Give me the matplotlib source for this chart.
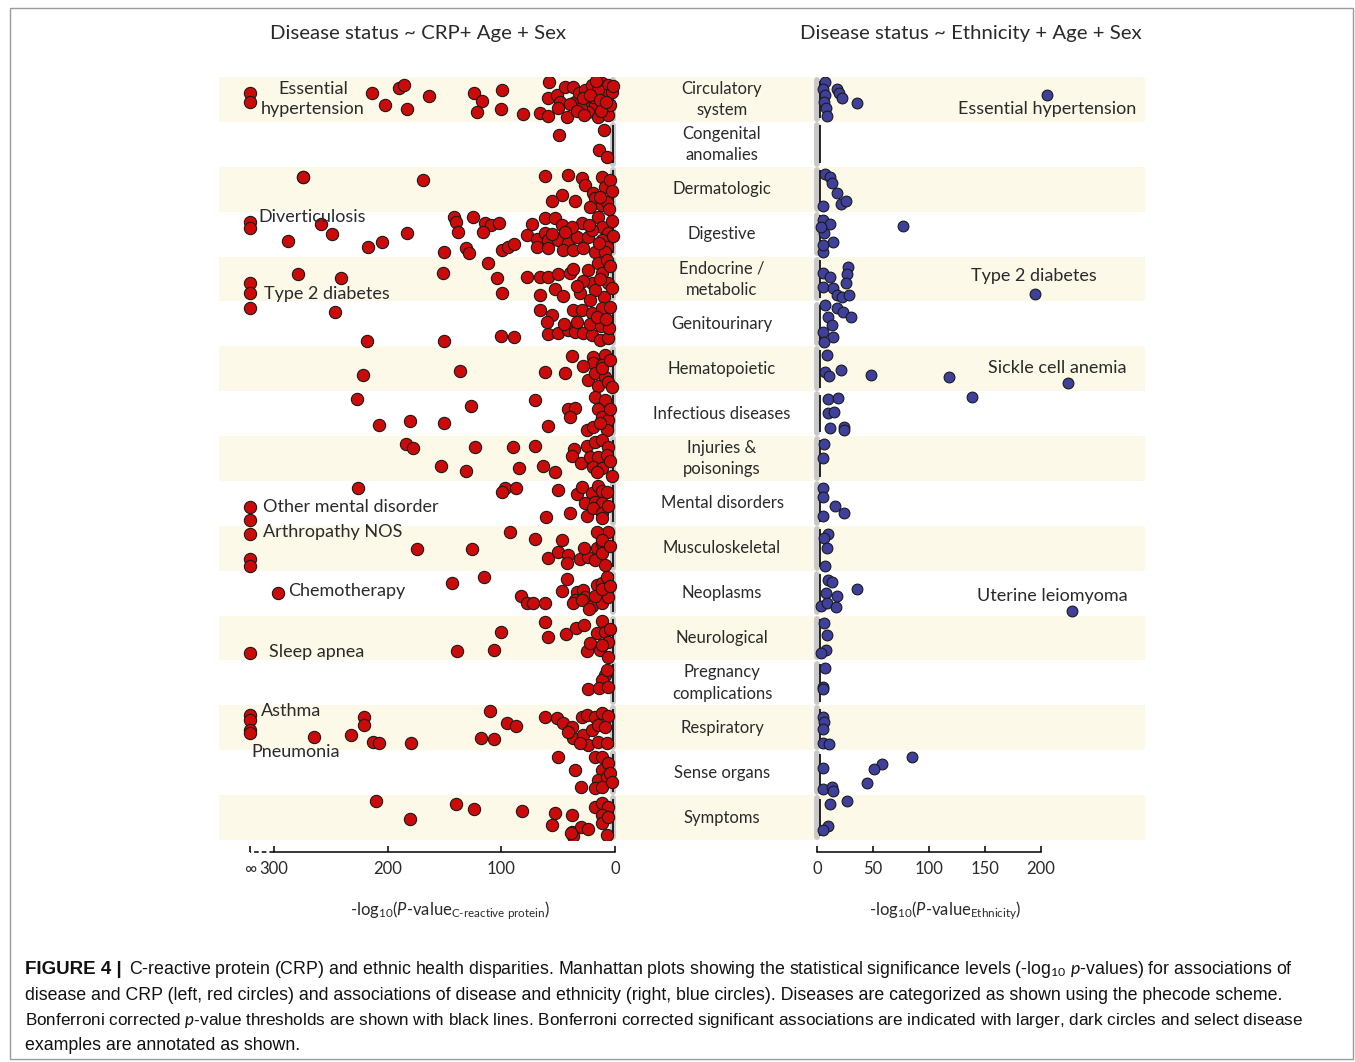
import matplotlib
matplotlib.use('Agg')
import matplotlib.pyplot as plt
import matplotlib.transforms as mtransforms
from matplotlib.patches import Rectangle
import numpy as np

inf = float('inf')

# phecode categories, top to bottom
categories = ['Circulatory\nsystem', 'Congenital\nanomalies', 'Dermatologic', 'Digestive',
              'Endocrine /\nmetabolic', 'Genitourinary', 'Hematopoietic', 'Infectious diseases',
              'Injuries &\npoisonings', 'Mental disorders', 'Musculoskeletal', 'Neoplasms',
              'Neurological', 'Pregnancy\ncomplications', 'Respiratory', 'Sense organs', 'Symptoms']

# -log10(p) for CRP, one list per category (inf = p underflow)
crp_logp = [
    [inf, inf, 214, 202, 190, 186, 183, 164, 124, 117, 121, 99, 100, 81, 58, 66, 59, 59, 51, 44, 37, 48, 42, 50,
     35, 32, 26, 20, 11, 6, 25, 18, 10, 24, 15, 6, 19, 9, 15, 30, 28, 22, 13, 4, 3, 40, 33, 27, 12, 8, 2, 17],
    [10, 49, 14, 7],
    [274, 274, 169, 62, 41, 29, 26, 11, 47, 55, 35, 19, 18, 11, 7, 9, 4, 13, 3, 22, 5],
    [inf, inf, 259, 288, 249, 217, 205, 183, 142, 140, 125, 138, 150, 131, 128, 114, 109, 102, 116, 99, 94, 89,
     73, 62, 53, 47, 77, 69, 62, 59, 69, 59, 50, 41, 33, 24, 46, 37, 28, 18, 29, 15, 11, 6, 11, 7, 20, 38,
     3, 2, 9, 14, 23, 44, 55],
    [inf, inf, 279, 241, 151, 112, 104, 99, 77, 66, 59, 50, 40, 37, 53, 66, 46, 31, 24, 20, 15, 11, 7, 6, 10, 18, 22,
     4, 3, 13, 28, 33],
    [inf, 246, 218, 150, 100, 89, 59, 50, 41, 35, 28, 20, 13, 6, 66, 55, 37, 29, 20, 11, 4, 60, 45, 33, 22, 12, 5,
     16, 8],
    [38, 19, 9, 19, 11, 222, 136, 62, 44, 24, 18, 9, 15, 6, 11, 4, 28, 3],
    [227, 70, 127, 18, 9, 15, 41, 35, 40, 208, 180, 150, 59, 11, 6, 25, 19, 7, 4, 13],
    [184, 178, 123, 90, 70, 36, 38, 25, 18, 11, 6, 153, 131, 84, 63, 53, 30, 22, 15, 7, 19, 11, 16, 4, 3],
    [226, 97, 99, 87, 50, 33, 29, 20, 15, 11, 26, 18, 11, 40, 61, 25, 19, 11, 11, inf, inf, 6, 7],
    [inf, inf, inf, 92, 70, 47, 174, 126, 59, 50, 41, 42, 31, 24, 16, 11, 6, 16, 11, 18, 11, 9, 4, 27],
    [296, 143, 115, 42, 47, 33, 28, 35, 26, 16, 11, 7, 83, 77, 72, 62, 37, 29, 20, 11, 6, 18, 11, 4, 23],
    [62, 100, 59, 43, 34, 27, 11, 16, 9, 6, 139, 106, 25, 22, 13, 6, 11, inf, 4],
    [9, 11, 24, 14, 6, 7],
    [inf, inf, inf, inf, 221, 221, 265, 232, 213, 208, 179, 110, 95, 87, 118, 106, 62, 51, 46, 38, 29, 25, 18, 11,
     6, 37, 28, 20, 15, 9, 24, 15, 7, 31, 41],
    [50, 35, 18, 11, 11, 15, 7, 18, 11, 30, 6, 4, 3],
    [210, 140, 124, 82, 53, 38, 180, 55, 38, 30, 24, 37, 39, 18, 11, 6, 11, 11, 7, 6],
]
# vertical spread of each point inside its category row (0 = top, 1 = bottom)
crp_jitter = [
    [0.36, 0.56, 0.36, 0.62, 0.25, 0.18, 0.71, 0.42, 0.36, 0.53, 0.78, 0.29, 0.71, 0.82, 0.11, 0.80, 0.87, 0.47,
     0.40, 0.22, 0.22, 0.56, 0.89, 0.69, 0.56, 0.36, 0.29, 0.18, 0.13, 0.18, 0.62, 0.62, 0.62, 0.78, 0.89, 0.85,
     0.45, 0.40, 0.29, 0.69, 0.47, 0.40, 0.51, 0.62, 0.33, 0.60, 0.75, 0.85, 0.75, 0.55, 0.20, 0.10],
    [0.18, 0.29, 0.63, 0.78],
    [0.22, 0.23, 0.29, 0.21, 0.18, 0.25, 0.40, 0.22, 0.63, 0.76, 0.76, 0.58, 0.69, 0.85, 0.78, 0.45, 0.29, 0.67,
     0.55, 0.90, 0.95],
    [0.23, 0.36, 0.28, 0.65, 0.50, 0.78, 0.67, 0.47, 0.12, 0.23, 0.12, 0.45, 0.89, 0.81, 0.92, 0.25, 0.30, 0.25,
     0.45, 0.85, 0.78, 0.72, 0.28, 0.14, 0.14, 0.30, 0.52, 0.60, 0.48, 0.63, 0.78, 0.81, 0.63, 0.70, 0.56, 0.56,
     0.85, 0.85, 0.81, 0.90, 0.25, 0.12, 0.34, 0.47, 0.63, 0.78, 0.41, 0.34, 0.20, 0.55, 0.90, 0.70, 0.30, 0.45,
     0.50],
    [0.59, 0.81, 0.39, 0.48, 0.37, 0.14, 0.48, 0.81, 0.46, 0.46, 0.46, 0.39, 0.37, 0.28, 0.72, 0.85, 0.87, 0.81,
     0.30, 0.59, 0.14, 0.37, 0.08, 0.59, 0.90, 0.74, 0.96, 0.20, 0.70, 0.50, 0.55, 0.65],
    [0.15, 0.23, 0.88, 0.88, 0.77, 0.79, 0.73, 0.70, 0.63, 0.68, 0.70, 0.75, 0.86, 0.82, 0.19, 0.30, 0.19, 0.19,
     0.26, 0.15, 0.12, 0.45, 0.50, 0.45, 0.50, 0.55, 0.60, 0.35, 0.40],
    [0.21, 0.23, 0.19, 0.37, 0.41, 0.63, 0.55, 0.57, 0.59, 0.75, 0.59, 0.68, 0.88, 0.79, 0.48, 0.30, 0.45, 0.90],
    [0.17, 0.19, 0.33, 0.13, 0.19, 0.39, 0.39, 0.37, 0.57, 0.75, 0.66, 0.71, 0.77, 0.57, 0.64, 0.86, 0.79, 0.86,
     0.40, 0.70],
    [0.17, 0.26, 0.24, 0.24, 0.22, 0.28, 0.44, 0.22, 0.13, 0.08, 0.24, 0.66, 0.77, 0.71, 0.66, 0.80, 0.60, 0.46,
     0.46, 0.42, 0.69, 0.71, 0.80, 0.55, 0.90],
    [0.15, 0.15, 0.24, 0.15, 0.20, 0.29, 0.13, 0.27, 0.11, 0.22, 0.49, 0.47, 0.49, 0.71, 0.80, 0.78, 0.60, 0.71,
     0.82, 0.58, 0.87, 0.55, 0.25],
    [0.18, 0.73, 0.89, 0.13, 0.29, 0.31, 0.51, 0.51, 0.71, 0.58, 0.65, 0.82, 0.73, 0.69, 0.49, 0.38, 0.13, 0.13,
     0.31, 0.76, 0.60, 0.87, 0.45, 0.50],
    [0.49, 0.27, 0.13, 0.18, 0.45, 0.47, 0.42, 0.65, 0.58, 0.31, 0.27, 0.13, 0.56, 0.73, 0.71, 0.71, 0.73, 0.65,
     0.78, 0.71, 0.58, 0.56, 0.40, 0.35, 0.85],
    [0.14, 0.36, 0.47, 0.40, 0.27, 0.22, 0.12, 0.38, 0.36, 0.58, 0.78, 0.76, 0.78, 0.61, 0.76, 0.92, 0.65, 0.83,
     0.30],
    [0.32, 0.43, 0.63, 0.61, 0.58, 0.21],
    [0.21, 0.32, 0.54, 0.61, 0.26, 0.43, 0.70, 0.66, 0.81, 0.84, 0.84, 0.12, 0.39, 0.45, 0.72, 0.74, 0.26, 0.28,
     0.39, 0.48, 0.26, 0.21, 0.26, 0.17, 0.23, 0.72, 0.66, 0.54, 0.43, 0.48, 0.88, 0.81, 0.84, 0.84, 0.59],
    [0.14, 0.44, 0.14, 0.14, 0.44, 0.66, 0.59, 0.84, 0.82, 0.82, 0.28, 0.50, 0.70],
    [0.12, 0.19, 0.30, 0.35, 0.39, 0.44, 0.53, 0.66, 0.82, 0.70, 0.75, 0.91, 0.84, 0.26, 0.17, 0.26, 0.44, 0.62,
     0.89, 0.48],
]

# -log10(p) for ethnicity
eth_logp = [
    [7, 5, 7, 6, 8, 9, 18, 20, 22, 36, 205],
    [],
    [7, 12, 13, 18, 21, 26, 5],
    [5, 12, 6, 14, 5, 77, 4, 5],
    [28, 27, 26, 5, 12, 5, 14, 18, 22, 29, 195],
    [7, 18, 23, 30, 10, 13, 5, 14, 6],
    [9, 7, 11, 21, 48, 118, 224],
    [138, 10, 19, 10, 15, 12, 24, 24],
    [6, 5],
    [5, 5, 16, 24, 5],
    [10, 6, 9, 7],
    [10, 13, 36, 8, 18, 4, 9, 17, 228],
    [6, 9, 8, 4],
    [7, 5, 5],
    [5, 6, 5, 5, 11],
    [85, 58, 51, 45, 5, 5, 13, 14],
    [27, 12, 10, 5],
]
eth_jitter = [
    [0.11, 0.27, 0.40, 0.56, 0.69, 0.87, 0.27, 0.36, 0.47, 0.58, 0.40],
    [],
    [0.16, 0.22, 0.36, 0.58, 0.83, 0.76, 0.87],
    [0.18, 0.27, 0.47, 0.67, 0.90, 0.32, 0.34, 0.74],
    [0.23, 0.39, 0.59, 0.37, 0.45, 0.68, 0.70, 0.85, 0.90, 0.85, 0.83],
    [0.08, 0.15, 0.23, 0.35, 0.35, 0.52, 0.68, 0.79, 0.90],
    [0.19, 0.57, 0.66, 0.52, 0.64, 0.68, 0.82],
    [0.13, 0.17, 0.15, 0.48, 0.46, 0.81, 0.80, 0.86],
    [0.17, 0.48],
    [0.16, 0.35, 0.55, 0.71, 0.78],
    [0.18, 0.27, 0.49, 0.89],
    [0.20, 0.25, 0.40, 0.49, 0.56, 0.78, 0.71, 0.80, 0.89],
    [0.16, 0.43, 0.76, 0.83],
    [0.16, 0.58, 0.63],
    [0.25, 0.37, 0.52, 0.84, 0.86],
    [0.14, 0.30, 0.41, 0.73, 0.39, 0.86, 0.81, 0.90],
    [0.12, 0.19, 0.68, 0.77],
]

# Bonferroni thresholds and where the non-significant points sit
crp_threshold, crp_ns = 2.0, 1.5
eth_threshold, eth_ns = 2.7, -0.4
INF_POS = 321  # x position used for p = 0 (the "infinity" tick)

# annotations: label, -log10(p) position, row position
crp_notes = [('Diverticulosis', 314, 3.12), ('Type 2 diabetes', 308.7, 4.83),
             ('Other mental disorder', 309.6, 9.58), ('Arthropathy NOS', 309.6, 10.13),
             ('Chemotherapy', 287.6, 11.45), ('Sleep apnea', 304.3, 12.81),
             ('Asthma', 311.3, 14.12), ('Pneumonia', 320.1, 15.03)]
eth_notes = [('Essential hypertension', 125.9, 0.71), ('Type 2 diabetes', 137.5, 4.43),
             ('Sickle cell anemia', 152.7, 6.48), ('Uterine leiomyoma', 142.9, 11.56)]

caption_lines = [
    r'C-reactive protein (CRP) and ethnic health disparities. Manhattan plots showing the statistical significance levels (-log$_{10}$ $p$-values) for associations of',
    'disease and CRP (left, red circles) and associations of disease and ethnicity (right, blue circles). Diseases are categorized as shown using the phecode scheme.',
    r'Bonferroni corrected $p$-value thresholds are shown with black lines. Bonferroni corrected significant associations are indicated with larger, dark circles and select disease',
    'examples are annotated as shown.',
]

plt.rcParams['font.family'] = ['Lato', 'DejaVu Sans']
plt.rcParams['mathtext.fontset'] = 'custom'
plt.rcParams['mathtext.rm'] = 'Lato'
plt.rcParams['mathtext.it'] = 'Lato:italic'

W, H = 1355, 1062
TXT = '#2a2a2a'
RED = '#CC0A0A'
BLUE = '#3E409B'
BAND = '#FCF9E8'
fig = plt.figure(figsize=(W / 100, H / 100), dpi=100)


def fx(px):
    return px / W


def fy(py):
    return 1 - py / H


nrow = len(categories)
rows = np.arange(nrow)
top, bot = 77, 840

# background bands + category names
bg = fig.add_axes([fx(219), fy(bot), (1145 - 219) / W, (bot - top) / H])
bg.set_xlim(0, 1)
bg.set_ylim(nrow, 0)
bg.axis('off')
for i in rows:
    if i % 2 == 0:
        bg.axhspan(i, i + 1, color=BAND, lw=0)
    bg.text(0.5432, i + 0.5, categories[i], ha='center', va='center', fontsize=12,
            color=TXT, linespacing=1.4)

off = 12 * 0.72  # spine offset in points


def panel(ax, logp, jitter, ns, thr, color, size):
    ax.set_ylim(nrow, 0)
    ax.patch.set_visible(False)
    for s in ['left', 'right', 'top']:
        ax.spines[s].set_visible(False)
    ax.spines['bottom'].set_position(('outward', off))
    ax.spines['bottom'].set_linewidth(1.1)
    ax.set_yticks([])
    ax.tick_params(axis='x', direction='in', length=4, width=1.1, pad=6.5,
                   labelsize=12, labelcolor=TXT)
    g = ax.vlines(np.full(nrow, ns), rows + 0.07, rows + 0.93, color='#c8c8c8', lw=4.2)
    g.set_capstyle('round')
    ax.vlines(np.full(nrow, thr), rows + 0.08, rows + 0.92, color='k', lw=1.2)
    for i in rows:
        v = np.array(logp[i], dtype=float)
        v = np.where(np.isinf(v), INF_POS, v)
        y = i + np.array(jitter[i], dtype=float)
        ax.scatter(v, y, s=size, c=color, edgecolors='#1a1a1a', linewidths=0.8, zorder=3)


axL = fig.add_axes([fx(219), fy(bot), (625 - 219) / W, (bot - top) / H])
axL.set_xlim(348.3, -8.8)
panel(axL, crp_logp, crp_jitter, crp_ns, crp_threshold, RED, 78)
axL.spines['bottom'].set_bounds(0, 300)
axL.set_xticks([INF_POS, 300, 200, 100, 0])
axL.set_xticklabels(['∞', '300', '200', '100', '0'])
trans = mtransforms.blended_transform_factory(axL.transData, axL.transAxes) + \
    mtransforms.ScaledTranslation(0, -off / 72, fig.dpi_scale_trans)
axL.plot([300, INF_POS], [0, 0], color='k', lw=1.1, ls=(0, (3, 2)), transform=trans, clip_on=False)
axL.text(265.6, 0.49, 'Essential\nhypertension', ha='center', va='center', fontsize=13,
         color=TXT, linespacing=1.3, zorder=4)
for lab, x, y in crp_notes:
    axL.text(x, y, lab, ha='left', va='center', fontsize=13, color=TXT, zorder=4)

axR = fig.add_axes([fx(800), fy(bot), (1145 - 800) / W, (bot - top) / H])
axR.set_xlim(-15.2, 292.9)
panel(axR, eth_logp, eth_jitter, eth_ns, eth_threshold, BLUE, 60)
axR.spines['bottom'].set_bounds(0, 200)
axR.set_xticks([0, 50, 100, 150, 200])
for lab, x, y in eth_notes:
    axR.text(x, y, lab, ha='left', va='center', fontsize=13, color=TXT, zorder=4)

# titles and axis labels
fig.text(fx(418), fy(33), 'Disease status ~ CRP+ Age + Sex', ha='center', va='center',
         fontsize=14.7, color=TXT)
fig.text(fx(971), fy(33), 'Disease status ~ Ethnicity + Age + Sex', ha='center', va='center',
         fontsize=14.7, color=TXT)
fig.text(fx(450), fy(911), r'-log$_{10}$($\mathit{P}$-value$_{\text{C-reactive protein}}$)',
         ha='center', va='center', fontsize=12, color=TXT)
fig.text(fx(945), fy(911), r'-log$_{10}$($\mathit{P}$-value$_{\text{Ethnicity}}$)',
         ha='center', va='center', fontsize=12, color=TXT)

# caption
cap_y = [970, 995, 1020, 1045]
cap_size = [12.75, 12.75, 12.3, 12.75]
fig.text(fx(25), fy(cap_y[0]), 'FIGURE 4 |', ha='left', va='center', fontsize=13.5,
         fontweight='bold', family='Liberation Sans', color='#111111')
for k, line in enumerate(caption_lines):
    x0 = 129 if k == 0 else 25
    fig.text(fx(x0), fy(cap_y[k]), line, ha='left', va='center', fontsize=cap_size[k],
             family='Liberation Sans', color='#111111')

fig.add_artist(Rectangle((fx(10), fy(1059)), (1353 - 10) / W, (1059 - 8) / H,
                         transform=fig.transFigure, fill=False, ec='#9a9a9a', lw=1))

fig.savefig('out.png', dpi=100)
